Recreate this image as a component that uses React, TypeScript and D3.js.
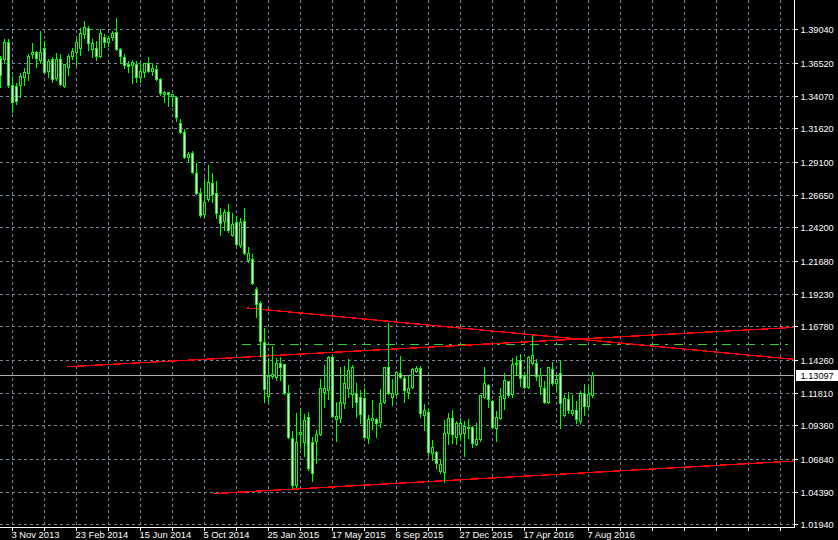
import React from "react";
import * as d3 from "d3";

// weekly EURUSD-style candles, first bar = week of 13 Oct 2013
const open = [
  1.3690, 1.3682, 1.3809, 1.3487, 1.3480, 1.3487, 1.3547, 1.3577, 1.3720, 1.3735,
  1.3675, 1.3764, 1.3592, 1.3682, 1.3540, 1.3682, 1.3480, 1.3622, 1.3705, 1.3735,
  1.3764, 1.3869, 1.3914, 1.3757, 1.3764, 1.3705, 1.3847, 1.3809, 1.3847, 1.3884,
  1.3757, 1.3697, 1.3645, 1.3637, 1.3645, 1.3547, 1.3585, 1.3652, 1.3592, 1.3607,
  1.3532, 1.3420, 1.3435, 1.3405, 1.3398, 1.3203, 1.3135, 1.2948, 1.2978, 1.2828,
  1.2678, 1.2521, 1.2634, 1.2753, 1.2678, 1.2514, 1.2469, 1.2536, 1.2364, 1.2461,
  1.2289, 1.2469, 1.2177, 1.2184, 1.1959, 1.1855, 1.1563, 1.1158, 1.1308, 1.1300,
  1.1405, 1.1398, 1.1181, 1.0843, 1.0491, 1.0873, 1.0813, 1.1001, 1.0813, 1.0821,
  1.0873, 1.1188, 1.1203, 1.1450, 1.0986, 1.0993, 1.1106, 1.1218, 1.1173, 1.1181,
  1.1151, 1.1143, 1.0843, 1.0978, 1.0986, 1.0963, 1.1113, 1.1375, 1.1151, 1.1173,
  1.1330, 1.1293, 1.1188, 1.1225, 1.1345, 1.1368, 1.1016, 1.1038, 1.0731, 1.0739,
  1.0596, 1.0589, 1.0881, 1.0993, 1.0851, 1.0873, 1.0881, 1.0926, 1.0926, 1.0798,
  1.0836, 1.1151, 1.1240, 1.1121, 1.0918, 1.0993, 1.1143, 1.1270, 1.1173, 1.1405,
  1.1428, 1.1308, 1.1225, 1.1405, 1.1405, 1.1233, 1.1218, 1.1113, 1.1360, 1.1255,
  1.1330, 1.1016, 1.1136, 1.1031, 1.1053, 1.0971, 1.1181, 1.1083, 1.1166,
];
const high = [
  1.3712, 1.3839, 1.3839, 1.3562, 1.3510, 1.3585, 1.3622, 1.3727, 1.3809, 1.3750,
  1.3899, 1.3824, 1.3690, 1.3705, 1.3735, 1.3727, 1.3652, 1.3727, 1.3772, 1.3839,
  1.3922, 1.3974, 1.3937, 1.3839, 1.3824, 1.3914, 1.3877, 1.3862, 1.3899, 1.3997,
  1.3772, 1.3727, 1.3675, 1.3682, 1.3675, 1.3652, 1.3660, 1.3705, 1.3652, 1.3645,
  1.3547, 1.3450, 1.3442, 1.3427, 1.3405, 1.3240, 1.3165, 1.2993, 1.3001, 1.2911,
  1.2723, 1.2798, 1.2896, 1.2836, 1.2776, 1.2574, 1.2566, 1.2604, 1.2536, 1.2514,
  1.2499, 1.2574, 1.2281, 1.2229, 1.1982, 1.1877, 1.1675, 1.1450, 1.1540, 1.1450,
  1.1458, 1.1405, 1.1248, 1.0903, 1.1038, 1.1061, 1.1031, 1.1046, 1.0858, 1.0911,
  1.1293, 1.1398, 1.1465, 1.1465, 1.1121, 1.1383, 1.1390, 1.1443, 1.1398, 1.1263,
  1.1210, 1.1225, 1.1023, 1.1136, 1.1001, 1.1218, 1.1383, 1.1712, 1.1293, 1.1353,
  1.1465, 1.1315, 1.1323, 1.1375, 1.1390, 1.1390, 1.1106, 1.1068, 1.0836, 1.0754,
  1.0694, 1.0986, 1.1038, 1.1061, 1.0978, 1.1001, 1.0978, 1.0993, 1.0941, 1.0963,
  1.1173, 1.1383, 1.1255, 1.1136, 1.1053, 1.1225, 1.1338, 1.1278, 1.1450, 1.1465,
  1.1480, 1.1338, 1.1465, 1.1622, 1.1443, 1.1375, 1.1278, 1.1383, 1.1420, 1.1330,
  1.1435, 1.1173, 1.1196, 1.1173, 1.1128, 1.1203, 1.1255, 1.1240, 1.1345,
];
const low = [
  1.3472, 1.3652, 1.3472, 1.3285, 1.3345, 1.3398, 1.3487, 1.3525, 1.3690, 1.3622,
  1.3652, 1.3577, 1.3547, 1.3510, 1.3525, 1.3487, 1.3472, 1.3562, 1.3682, 1.3637,
  1.3712, 1.3839, 1.3750, 1.3697, 1.3675, 1.3697, 1.3772, 1.3779, 1.3824, 1.3750,
  1.3652, 1.3615, 1.3585, 1.3502, 1.3510, 1.3510, 1.3547, 1.3585, 1.3562, 1.3525,
  1.3412, 1.3360, 1.3330, 1.3330, 1.3218, 1.3128, 1.2941, 1.2911, 1.2828, 1.2671,
  1.2499, 1.2499, 1.2619, 1.2611, 1.2491, 1.2364, 1.2401, 1.2386, 1.2356, 1.2289,
  1.2274, 1.2222, 1.2162, 1.1997, 1.1750, 1.1458, 1.1113, 1.1106, 1.1293, 1.1278,
  1.1278, 1.1173, 1.0843, 1.0469, 1.0476, 1.0769, 1.0709, 1.0604, 1.0521, 1.0656,
  1.0866, 1.1076, 1.1135, 1.1001, 1.0821, 1.0963, 1.1068, 1.1151, 1.1076, 1.1001,
  1.0956, 1.0843, 1.0806, 1.0911, 1.0851, 1.0926, 1.1106, 1.1173, 1.1091, 1.1166,
  1.1293, 1.1113, 1.1143, 1.1218, 1.1338, 1.1001, 1.0903, 1.0716, 1.0679, 1.0619,
  1.0581, 1.0514, 1.0798, 1.0806, 1.0798, 1.0828, 1.0709, 1.0843, 1.0776, 1.0791,
  1.0821, 1.1143, 1.1076, 1.0918, 1.0821, 1.0986, 1.1061, 1.1151, 1.1151, 1.1323,
  1.1233, 1.1218, 1.1218, 1.1390, 1.1278, 1.1173, 1.1106, 1.1106, 1.1240, 1.1203,
  1.0918, 1.1008, 1.1031, 1.1016, 1.0956, 1.0948, 1.1016, 1.1068, 1.1151,
];
const close = [
  1.3562, 1.3809, 1.3487, 1.3360, 1.3368, 1.3555, 1.3585, 1.3705, 1.3735, 1.3690,
  1.3735, 1.3585, 1.3667, 1.3532, 1.3682, 1.3495, 1.3645, 1.3705, 1.3742, 1.3809,
  1.3877, 1.3922, 1.3802, 1.3802, 1.3705, 1.3877, 1.3809, 1.3839, 1.3877, 1.3757,
  1.3705, 1.3637, 1.3630, 1.3660, 1.3547, 1.3592, 1.3652, 1.3592, 1.3615, 1.3532,
  1.3427, 1.3435, 1.3420, 1.3420, 1.3248, 1.3135, 1.2948, 1.2971, 1.2836, 1.2678,
  1.2514, 1.2611, 1.2761, 1.2671, 1.2529, 1.2454, 1.2536, 1.2401, 1.2446, 1.2296,
  1.2461, 1.2229, 1.2229, 1.2004, 1.1847, 1.1570, 1.1210, 1.1308, 1.1323, 1.1405,
  1.1375, 1.1181, 1.0851, 1.0491, 1.0813, 1.0888, 1.0978, 1.0619, 1.0581, 1.0873,
  1.1218, 1.1218, 1.1450, 1.1008, 1.1008, 1.1113, 1.1255, 1.1353, 1.1375, 1.1113,
  1.1023, 1.0851, 1.0986, 1.0993, 1.0956, 1.1106, 1.1375, 1.1181, 1.1181, 1.1338,
  1.1300, 1.1203, 1.1218, 1.1360, 1.1368, 1.1031, 1.1053, 1.0739, 1.0776, 1.0656,
  1.0649, 1.0881, 1.0993, 1.0873, 1.0956, 1.0956, 1.0933, 1.0918, 1.0806, 1.0836,
  1.1166, 1.1255, 1.1136, 1.0926, 1.1001, 1.1158, 1.1278, 1.1166, 1.1398, 1.1398,
  1.1293, 1.1225, 1.1450, 1.1465, 1.1308, 1.1315, 1.1113, 1.1375, 1.1255, 1.1285,
  1.1106, 1.1143, 1.1053, 1.1053, 1.0986, 1.1181, 1.1083, 1.1173, 1.13097,
];

const priceTicks = [
  1.3904, 1.3652, 1.3407, 1.3162, 1.291, 1.2665, 1.242, 1.2168,
  1.1923, 1.1678, 1.1426, 1.1181, 1.0936, 1.0684, 1.0439, 1.0194,
];
const dateLabels = [
  "3 Nov 2013", "23 Feb 2014", "15 Jun 2014", "5 Oct 2014", "25 Jan 2015",
  "17 May 2015", "6 Sep 2015", "27 Dec 2015", "17 Apr 2016", "7 Aug 2016",
];
const lastPrice = 1.13097;

// drawn objects: [bar index, price] pairs
const redLines = [
  [[61.7, 1.1815], [198.5, 1.143]],
  [[16.7, 1.1375], [198.5, 1.167]],
  [[53.2, 1.0424], [198.5, 1.0668]],
];
const greenLevel = { from: 60.4, price: 1.1547 };

const W = 838;
const H = 540;
const plotRight = 794.5;
const plotBottom = 527.5;
const font = "'Liberation Sans', Arial, sans-serif";

export default function App() {
  const x = d3.scaleLinear().domain([0, 198.5]).range([0.5, plotRight]);
  const y = d3.scaleLinear().domain([1.0194, 1.3904]).range([524.3, 29.3]);
  const py = (v: number) => Math.round(y(v)) + 0.5;

  const gridWeeks = d3.range(3, 198, 8);
  const bars = d3.range(open.length);

  return (
    <div>
      <style>{"body{margin:0;background:#000}"}</style>
      <svg width={W} height={H} style={{ display: "block", background: "#000" }}>
        <rect width={W} height={H} fill="#000" />
        <g stroke="#778899" strokeDasharray="3,3" shapeRendering="crispEdges">
          {priceTicks.map((t) => (
            <line key={t} x1={0} x2={plotRight} y1={py(t)} y2={py(t)} />
          ))}
          {gridWeeks.map((w) => (
            <line key={w} x1={x(w)} x2={x(w)} y1={0} y2={plotBottom} />
          ))}
        </g>

        <line
          x1={0}
          x2={plotRight}
          y1={py(lastPrice)}
          y2={py(lastPrice)}
          stroke="#a9a9a9"
          shapeRendering="crispEdges"
        />

        <line
          x1={x(greenLevel.from)}
          x2={plotRight}
          y1={py(greenLevel.price)}
          y2={py(greenLevel.price)}
          stroke="#32cd32"
          strokeWidth={1.5}
          strokeDasharray="9,6,3,6"
          shapeRendering="crispEdges"
        />

        <g stroke="#ff0000" strokeWidth={1.4} fill="none" shapeRendering="crispEdges">
          {redLines.map((l, k) => (
            <line
              key={k}
              x1={x(l[0][0])}
              y1={y(l[0][1])}
              x2={x(l[1][0])}
              y2={y(l[1][1])}
            />
          ))}
        </g>

        <g shapeRendering="crispEdges">
          {bars.map((i) => {
            const cx = x(i);
            const bull = close[i] >= open[i];
            const top = py(Math.max(open[i], close[i]));
            const bot = py(Math.min(open[i], close[i]));
            return (
              <g key={i}>
                <line x1={cx} x2={cx} y1={py(high[i])} y2={py(low[i])} stroke="#00ff00" />
                <rect
                  x={cx - 1}
                  y={top}
                  width={2}
                  height={Math.max(bot - top, 1)}
                  fill={bull ? "#000" : "#fff"}
                  stroke="#00ff00"
                />
              </g>
            );
          })}
        </g>

        <g stroke="#fff" shapeRendering="crispEdges">
          <line x1={plotRight} x2={plotRight} y1={0} y2={plotBottom} />
          <line x1={0} x2={plotRight} y1={plotBottom} y2={plotBottom} />
          {priceTicks.map((t) => (
            <line key={t} x1={plotRight} x2={plotRight + 3} y1={py(t)} y2={py(t)} />
          ))}
          {gridWeeks.map((w) => (
            <line key={w} x1={x(w)} x2={x(w)} y1={plotBottom} y2={plotBottom + 3} />
          ))}
        </g>

        <g fill="#fff" fontFamily={font} fontSize={9.2}>
          {priceTicks.map((t) => (
            <text key={t} x={800.5} y={py(t) + 3.3}>
              {t.toFixed(5)}
            </text>
          ))}
        </g>
        <g fill="#fff" fontFamily={font} fontSize={9.4}>
          {dateLabels.map((d, k) => (
            <text key={d} x={x(3 + 16 * k) - 1} y={538}>
              {d}
            </text>
          ))}
        </g>

        <rect x={796} y={py(lastPrice) - 5.5} width={42} height={11} fill="#fff" />
        <text x={800.5} y={py(lastPrice) + 3.3} fill="#000" fontFamily={font} fontSize={9.2}>
          {lastPrice.toFixed(5)}
        </text>
      </svg>
    </div>
  );
}
